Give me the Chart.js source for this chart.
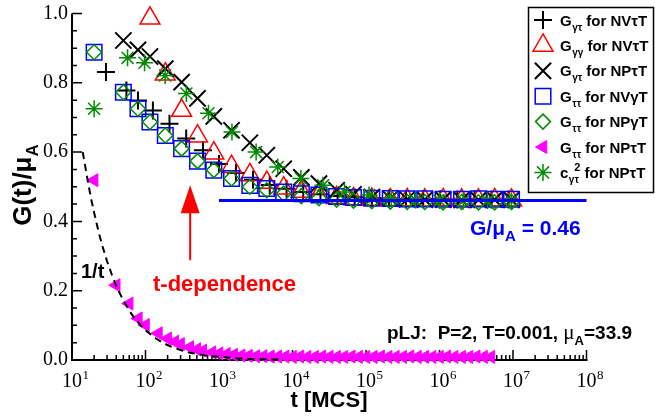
<!DOCTYPE html>
<html>
<head>
<meta charset="utf-8">
<script src="https://cdn.jsdelivr.net/npm/chart.js@4.4.0/dist/chart.umd.min.js"></script>
<style>
  html, body { margin: 0; padding: 0; background: #fff; }
  canvas { display: block; }
</style>
</head>
<body>
<canvas id="chart" width="655" height="419"></canvas>
<script>
// ---- values (t in MCS, G(t)/muA) ----
// time grid shared by most runs
const tGrid = [50, 79, 115, 186, 310, 510, 850, 1480, 2630, 4470, 7590, 13200, 22900,
  39800, 67600, 120000, 214000, 363000, 631000, 1120000, 2000000, 3390000, 5620000, 9550000];

// + G_γτ for NVτT
const tGtNVtT = [29, 55, 79, 126, 212, 358, 606, 1000, 1700, 2900, 4900, 8300, 14000, 24000,
  41000, 70000, 120000, 205000, 350000, 600000, 1020000, 1750000, 3000000, 5100000, 8700000];
const gtNVtT = [0.831, 0.778, 0.749, 0.720, 0.682, 0.639, 0.605, 0.566, 0.540, 0.520, 0.505,
  0.494, 0.485, 0.478, 0.473, 0.470, 0.467, 0.466, 0.465, 0.464, 0.464, 0.463, 0.464, 0.463, 0.463];

// triangle G_γγ for NVτT (tGrid from 115 on)
const tGgNVtT = tGrid.slice(2);
const ggNVtT = [0.986, 0.825, 0.720, 0.646, 0.597, 0.558, 0.534, 0.512, 0.496, 0.486, 0.476,
  0.468, 0.465, 0.463, 0.462, 0.462, 0.461, 0.462, 0.461, 0.461, 0.462, 0.461];

// x G_γτ for NPτT
const gtNPtT = [0.922, 0.895, 0.876, 0.841, 0.802, 0.755, 0.703, 0.663, 0.627, 0.591, 0.552,
  0.527, 0.509, 0.490, 0.478, 0.470, 0.466, 0.464, 0.463, 0.463, 0.462, 0.462, 0.463, 0.462];

// square G_ττ for NVγT / diamond G_ττ for NPγT
const tTt = [20].concat(tGrid);
const ttNVgT = [0.888, 0.773, 0.725, 0.687, 0.648, 0.610, 0.574, 0.548, 0.524, 0.504, 0.495,
  0.485, 0.480, 0.476, 0.472, 0.469, 0.467, 0.466, 0.465, 0.465, 0.464, 0.464, 0.465, 0.464, 0.464];
const ttNPgT = [0.888, 0.773, 0.725, 0.687, 0.648, 0.610, 0.574, 0.548, 0.524, 0.500, 0.490,
  0.480, 0.473, 0.467, 0.463, 0.460, 0.458, 0.457, 0.456, 0.456, 0.455, 0.456, 0.455, 0.455, 0.456];

// filled left triangle G_ττ for NPτT
const tTtNPtT = [20, 40, 60, 80, 100, 150, 200, 250, 300, 400, 500, 600, 800, 1000,
  1260, 1580, 2000, 2510, 3160, 3980, 5010, 6310, 7940,
  10000, 12600, 15800, 20000, 25100, 31600, 39800, 50100, 63100, 79400,
  100000, 126000, 158000, 200000, 251000, 316000, 398000, 501000, 631000, 794000,
  1000000, 1260000, 1580000, 2000000, 2510000, 3160000, 3980000, 5010000];
const ttNPtT = [0.519, 0.216, 0.163, 0.120, 0.101, 0.077, 0.062, 0.053, 0.046, 0.037, 0.031,
  0.027, 0.022, 0.019, 0.017, 0.015, 0.013, 0.012, 0.011, 0.011, 0.010, 0.010, 0.010,
  0.009, 0.010, 0.009, 0.009, 0.010, 0.009, 0.009, 0.009, 0.010, 0.009,
  0.009, 0.009, 0.010, 0.009, 0.009, 0.009, 0.010, 0.009, 0.009, 0.009,
  0.009, 0.010, 0.009, 0.009, 0.009, 0.010, 0.009, 0.009];

// asterisk c_γτ^2 for NPτT
const tC2 = [20, 57, 97, 185, 360, 720, 1500, 3200, 6300, 13000, 26000, 51000, 110000,
  220000, 470000, 1000000, 2100000, 4500000, 9500000];
const c2NPtT = [0.725, 0.872, 0.858, 0.821, 0.769, 0.712, 0.658, 0.600, 0.557, 0.524, 0.504,
  0.485, 0.476, 0.466, 0.462, 0.460, 0.459, 0.460, 0.459];

// dashed 1/t guide
const tInv = [14, 16, 18, 20, 23, 26, 30, 35, 40, 50, 60, 70, 85, 100, 130, 170, 220, 300,
  400, 550, 750, 1000, 1500, 2500, 4000, 7000];
const inv = [0.600, 0.530, 0.470, 0.425, 0.370, 0.328, 0.285, 0.245, 0.214, 0.171, 0.143,
  0.122, 0.101, 0.086, 0.066, 0.050, 0.039, 0.029, 0.021, 0.016, 0.011, 0.009, 0.006, 0.003,
  0.002, 0.001];

// plateau G/muA = 0.46
const tPlateau = [1000, 1e8];
const plateau = [0.46, 0.46];

const xDecades = [1, 2, 3, 4, 5, 6, 7, 8];
const yTicks = [0.0, 0.2, 0.4, 0.6, 0.8, 1.0];

const SANS = '"Liberation Sans", Arial, sans-serif';
const SERIF = '"Liberation Serif", "Times New Roman", serif';
const GREEN = 'rgb(0,139,0)';

const pts = (xs, ys) => ys.map((v, i) => ({ x: xs[i], y: v }));

const marks = (label, data, style, color, r, w, order, extra) => Object.assign({
  label, data, order,
  showLine: false,
  clip: false,
  pointStyle: style,
  pointRadius: r,
  pointHoverRadius: r,
  pointBorderWidth: w,
  pointBorderColor: color,
  pointBackgroundColor: 'transparent',
  borderColor: color,
  backgroundColor: 'transparent'
}, extra);

const datasets = [
  marks('Gγτ for NVτT', pts(tGtNVtT, gtNVtT), 'cross', '#000', 9, 2, 9),
  marks('Gγγ for NVτT', pts(tGgNVtT, ggNVtT), 'triangle', 'rgb(255,0,0)', 11.5, 1.5, 8),
  marks('Gγτ for NPτT', pts(tGrid, gtNPtT), 'crossRot', '#000', 11.5, 2, 7),
  marks('Gττ for NVγT', pts(tTt, ttNVgT), 'rect', 'rgb(0,0,255)', 11, 1.5, 6),
  marks('Gττ for NPγT', pts(tTt, ttNPgT), 'rectRot', GREEN, 7.5, 1.5, 5),
  marks('Gττ for NPτT', pts(tTtNPtT, ttNPtT), 'triangle', 'rgb(255,0,255)', 7.5, 1, 4,
    { pointRotation: -90, pointBackgroundColor: 'rgb(255,0,255)', backgroundColor: 'rgb(255,0,255)' }),
  marks('cγτ2 for NPτT', pts(tC2, c2NPtT), 'star', GREEN, 8.5, 1.5, 3),
  {
    label: '1/t', data: pts(tInv, inv), order: 2, showLine: true, clip: false,
    borderColor: '#000', borderWidth: 2, borderDash: [7, 5], pointRadius: 0, tension: 0
  },
  {
    label: 'G/muA', data: pts(tPlateau, plateau), order: 1, showLine: true, clip: false,
    borderColor: 'rgb(0,0,255)', borderWidth: 3, pointRadius: 0
  }
];

// legend rows: subscript of G and ensemble, in the order of the first 7 datasets
const keySub = ['γτ', 'γγ', 'γτ', 'ττ', 'ττ', 'ττ', 'γτ'];
const keyEns = ['NVτT', 'NVτT', 'NPτT', 'NVγT', 'NPγT', 'NPτT', 'NPτT'];

// draw a run of text pieces, each {s, f, dy}
function textRun(ctx, x, y, parts) {
  for (const p of parts) {
    ctx.font = p.f;
    ctx.fillText(p.s, x, y + (p.dy || 0));
    x += ctx.measureText(p.s).width;
  }
  return x;
}
function runWidth(ctx, parts) {
  let w = 0;
  for (const p of parts) { ctx.font = p.f; w += ctx.measureText(p.s).width; }
  return w;
}

function drawAxes(chart) {
  const { ctx, chartArea: a } = chart;
  const xs = chart.scales.x, ys = chart.scales.y;
  ctx.save();
  ctx.strokeStyle = '#000';
  ctx.fillStyle = '#000';

  // inward ticks
  ctx.lineWidth = 1.5;
  ctx.beginPath();
  xDecades.forEach((e, i) => {
    for (let m = 1; m <= 9; m++) {
      if (i === xDecades.length - 1 && m > 1) break;
      const px = xs.getPixelForValue(m * Math.pow(10, e));
      ctx.moveTo(px, a.bottom);
      ctx.lineTo(px, a.bottom - (m === 1 ? 10 : 5));
    }
  });
  for (let k = 0; k <= 20; k++) {
    const py = ys.getPixelForValue(k * 0.05);
    ctx.moveTo(a.left, py);
    ctx.lineTo(a.left + (k % 4 === 0 ? 10 : 5), py);
  }
  ctx.stroke();

  // axis lines
  ctx.lineWidth = 2;
  ctx.beginPath();
  ctx.moveTo(a.left, a.top);
  ctx.lineTo(a.left, a.bottom);
  ctx.lineTo(a.right + 1, a.bottom);
  ctx.stroke();

  // tick labels
  ctx.textBaseline = 'alphabetic';
  xDecades.forEach(e => {
    const px = xs.getPixelForValue(Math.pow(10, e));
    ctx.font = '20px ' + SERIF;
    ctx.textAlign = 'center';
    ctx.fillText('10', px, a.bottom + 27);
    ctx.font = '13px ' + SERIF;
    ctx.textAlign = 'left';
    ctx.fillText(String(e), px + 10.5, a.bottom + 19);
  });
  ctx.font = '20px ' + SERIF;
  ctx.textAlign = 'right';
  ctx.textBaseline = 'middle';
  yTicks.forEach(v => ctx.fillText(v.toFixed(1), a.left - 4, ys.getPixelForValue(v)));

  // axis titles
  ctx.textAlign = 'left';
  ctx.textBaseline = 'alphabetic';
  ctx.font = 'bold 22px ' + SANS;
  const xt = 't [MCS]';
  ctx.fillText(xt, 329 - ctx.measureText(xt).width / 2, 407);

  const yt = [
    { s: 'G(t)/μ', f: 'bold 26px ' + SANS },
    { s: 'A', f: 'bold 17px ' + SANS, dy: 7 }
  ];
  ctx.translate(31, 185);
  ctx.rotate(-Math.PI / 2);
  textRun(ctx, -runWidth(ctx, yt) / 2, 0, yt);
  ctx.restore();
}

function drawNotes(chart) {
  const { ctx } = chart;
  const xs = chart.scales.x, ys = chart.scales.y;
  ctx.save();
  ctx.textBaseline = 'alphabetic';
  ctx.textAlign = 'left';

  // red arrow
  const ax = xs.getPixelForValue(405);
  const tail = ys.getPixelForValue(0.288);
  const tip = ys.getPixelForValue(0.504);
  ctx.strokeStyle = 'rgb(255,0,0)';
  ctx.fillStyle = 'rgb(255,0,0)';
  ctx.lineWidth = 2;
  ctx.beginPath();
  ctx.moveTo(ax, tail);
  ctx.lineTo(ax, tip + 20);
  ctx.stroke();
  ctx.beginPath();
  ctx.moveTo(ax, tip);
  ctx.lineTo(ax - 9.5, tip + 28);
  ctx.lineTo(ax + 9.5, tip + 28);
  ctx.closePath();
  ctx.fill();

  ctx.font = 'bold 22px ' + SANS;
  ctx.fillText('t-dependence', 153, 291);

  ctx.fillStyle = '#000';
  ctx.font = 'bold 20px ' + SANS;
  ctx.fillText('1/t', 81, 278);

  ctx.fillStyle = 'rgb(0,0,255)';
  textRun(ctx, 470, 235, [
    { s: 'G/μ', f: 'bold 21px ' + SANS },
    { s: 'A', f: 'bold 15px ' + SANS, dy: 6 },
    { s: ' = 0.46', f: 'bold 21px ' + SANS }
  ]);

  ctx.fillStyle = '#000';
  textRun(ctx, 387, 339, [
    { s: 'pLJ:  P=2, T=0.001, ', f: 'bold 19px ' + SANS },
    { s: 'μ', f: '21px ' + SERIF },
    { s: 'A', f: 'bold 13px ' + SANS, dy: 6 },
    { s: '=33.9', f: 'bold 19px ' + SANS }
  ]);
  ctx.restore();
}

function drawKey(chart) {
  const { ctx } = chart;
  ctx.save();
  ctx.fillStyle = '#fff';
  ctx.fillRect(528, 7.5, 126, 185);
  ctx.strokeStyle = '#000';
  ctx.lineWidth = 1.5;
  ctx.strokeRect(528.5, 7.5, 125, 185);

  const main = 'bold 15px ' + SANS;
  const small = 'bold 10px ' + SANS;
  keySub.forEach((sub, i) => {
    const ds = datasets[i];
    const cy = 20 + i * 25.4;
    // marker
    ctx.save();
    ctx.strokeStyle = ds.pointBorderColor;
    ctx.fillStyle = ds.pointBackgroundColor;
    ctx.lineWidth = ds.pointBorderWidth;
    Chart.helpers.drawPoint(ctx, {
      pointStyle: ds.pointStyle,
      radius: ds.pointRadius,
      rotation: ds.pointRotation || 0,
      borderWidth: ds.pointBorderWidth
    }, 543, cy);
    ctx.restore();

    // label
    ctx.fillStyle = '#000';
    ctx.textAlign = 'left';
    ctx.textBaseline = 'alphabetic';
    const base = cy + 5.5;
    let x = 560;
    if (i === 6) {
      x = textRun(ctx, x, base, [{ s: 'c', f: main }]);
      ctx.font = small;
      const subW = ctx.measureText(sub).width;
      ctx.fillText(sub, x + 0.5, base + 5);
      ctx.font = 'bold 11px ' + SANS;
      const supW = ctx.measureText('2').width;
      ctx.fillText('2', x + subW - supW + 2, base - 7);
      x += subW + 2;
    } else {
      x = textRun(ctx, x, base, [{ s: 'G', f: main }]);
      x = textRun(ctx, x + 0.5, base, [{ s: sub, f: small, dy: 5 }]);
    }
    textRun(ctx, x, base, [{ s: ' for ' + keyEns[i], f: main }]);
  });
  ctx.restore();
}

const overlay = {
  id: 'overlay',
  beforeDatasetsDraw(chart) { drawAxes(chart); },
  afterDraw(chart) { drawNotes(chart); drawKey(chart); }
};

new Chart(document.getElementById('chart'), {
  type: 'scatter',
  data: { datasets },
  plugins: [overlay],
  options: {
    responsive: false,
    animation: false,
    devicePixelRatio: 1,
    layout: { padding: { left: 72, right: 68.5, top: 13, bottom: 59 } },
    plugins: {
      legend: { display: false },
      tooltip: { enabled: false }
    },
    scales: {
      x: { type: 'logarithmic', min: 10, max: 1e8, display: false },
      y: { type: 'linear', min: 0, max: 1, display: false }
    }
  }
});
</script>
</body>
</html>
